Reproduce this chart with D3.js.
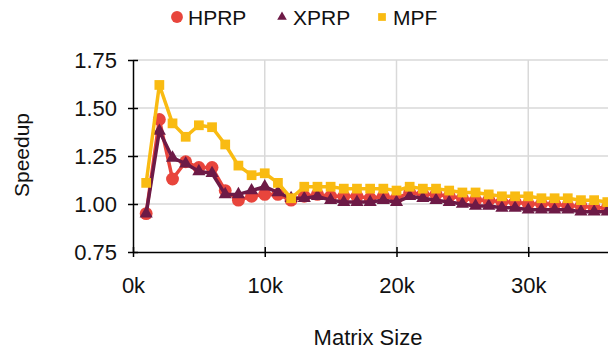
<!DOCTYPE html>
<html>
<head>
<meta charset="utf-8">
<script src="https://cdn.jsdelivr.net/npm/d3@7.9.0/dist/d3.min.js"></script>
<style>
  body { margin: 0; background: #fff; }
  svg { display: block; font-family: "Liberation Sans", Arial, sans-serif; }
</style>
</head>
<body>
<svg id="chart" width="608" height="351"></svg>
<script>
// matrix size in k
const sizes = d3.range(1, 37);

const hprp = [0.95, 1.44, 1.13, 1.22, 1.19, 1.19, 1.07, 1.02, 1.04, 1.05, 1.05, 1.02,
  1.04, 1.05, 1.04, 1.04, 1.04, 1.03, 1.04, 1.03, 1.06, 1.05, 1.05, 1.04,
  1.03, 1.02, 1.02, 1.01, 1.01, 1.00, 1.00, 1.00, 0.99, 0.99, 0.98, 0.98];
const xprp = [0.95, 1.38, 1.24, 1.21, 1.17, 1.16, 1.05, 1.05, 1.07, 1.09, 1.06, 1.03,
  1.03, 1.04, 1.02, 1.01, 1.01, 1.01, 1.02, 1.01, 1.04, 1.03, 1.02, 1.01,
  1.00, 0.99, 0.99, 0.98, 0.98, 0.97, 0.97, 0.97, 0.97, 0.96, 0.96, 0.96];
const mpf = [1.11, 1.62, 1.42, 1.35, 1.41, 1.40, 1.31, 1.20, 1.15, 1.16, 1.11, 1.03,
  1.09, 1.09, 1.09, 1.08, 1.08, 1.08, 1.08, 1.07, 1.09, 1.08, 1.08, 1.07,
  1.06, 1.06, 1.05, 1.04, 1.04, 1.04, 1.03, 1.03, 1.03, 1.02, 1.02, 1.01];

const yTicks = [0.75, 1.00, 1.25, 1.50, 1.75];
const xTicks = [0, 10, 20, 30];

const series = [
  { name: 'HPRP', values: hprp, color: '#e8453c', shape: d3.symbolCircle },
  { name: 'XPRP', values: xprp, color: '#6d1a46', shape: d3.symbolTriangle },
  { name: 'MPF', values: mpf, color: '#f9bb12', shape: d3.symbolSquare }
];

const svg = d3.select('#chart');

let x = d3.scaleLinear().domain([0, 40]).range([133, 660]);
let y = d3.scaleLinear().domain([0.75, 1.75]).range([252, 60]);

// grid
svg.append('g')
  .selectAll('line')
  .data(yTicks.slice(1))
  .join('line')
  .attr('x1', 133).attr('x2', 608)
  .attr('y1', d => y(d)).attr('y2', d => y(d))
  .attr('stroke', '#d9d9d9').attr('stroke-width', 1.5);
svg.append('g')
  .selectAll('line')
  .data(xTicks.slice(1))
  .join('line')
  .attr('x1', d => x(d)).attr('x2', d => x(d))
  .attr('y1', 60).attr('y2', 252)
  .attr('stroke', '#d9d9d9').attr('stroke-width', 1.5);

// lines and markers
let markerSize = { circle: 130, triangle: 75, square: 95 };
let line = d3.line().x((d, i) => x(sizes[i])).y(d => y(d));
series.forEach(s => {
  svg.append('path')
    .attr('d', line(s.values))
    .attr('fill', 'none')
    .attr('stroke', s.color)
    .attr('stroke-width', 3.5)
    .attr('stroke-linejoin', 'round');
  let key = s.shape === d3.symbolSquare ? 'square' : (s.shape === d3.symbolTriangle ? 'triangle' : 'circle');
  let sym = d3.symbol().type(s.shape).size(markerSize[key]);
  svg.append('g')
    .selectAll('path')
    .data(s.values)
    .join('path')
    .attr('d', sym)
    .attr('transform', (d, i) => `translate(${x(sizes[i])},${y(d)})`)
    .attr('fill', s.color);
});

// axes
let yAxis = d3.axisLeft(y).tickValues(yTicks).tickFormat(d3.format('.2f'))
  .tickSizeInner(0).tickSizeOuter(0).tickPadding(16);
let gy = svg.append('g').attr('transform', 'translate(133,0)').call(yAxis);
gy.select('.domain').attr('stroke', '#000').attr('stroke-width', 1.5);
gy.selectAll('.tick line').attr('x1', -5).attr('x2', 5).attr('stroke', '#000').attr('stroke-width', 1.5);
gy.selectAll('text').attr('font-size', 22).attr('fill', '#111');

let xAxis = d3.axisBottom(x).tickValues(xTicks).tickFormat(d => d + 'k')
  .tickSizeInner(0).tickSizeOuter(0).tickPadding(25);
let gx = svg.append('g').attr('transform', 'translate(0,252)').call(xAxis);
gx.select('.domain').attr('stroke', '#000').attr('stroke-width', 1.5);
gx.selectAll('.tick line').attr('y1', -5).attr('y2', 5).attr('stroke', '#000').attr('stroke-width', 1.5);
gx.selectAll('text').attr('font-size', 22).attr('fill', '#111');

// axis titles
svg.append('text')
  .attr('transform', 'translate(29,155) rotate(-90)')
  .attr('text-anchor', 'middle')
  .attr('font-size', 21).attr('fill', '#111')
  .text('Speedup');
svg.append('text')
  .attr('x', 368).attr('y', 345)
  .attr('text-anchor', 'middle')
  .attr('font-size', 22).attr('fill', '#111')
  .text('Matrix Size');

// legend
const legendX = [177, 282, 382];
let legend = svg.append('g');
series.forEach((s, i) => {
  let sym = d3.symbol().type(s.shape).size(s.shape === d3.symbolSquare ? 60 : (s.shape === d3.symbolTriangle ? 40 : 110));
  legend.append('path')
    .attr('d', sym)
    .attr('transform', `translate(${legendX[i]},17)`)
    .attr('fill', s.color);
  legend.append('text')
    .attr('x', legendX[i] + 11).attr('y', 25)
    .attr('font-size', 21).attr('fill', '#111')
    .text(s.name);
});
</script>
</body>
</html>
